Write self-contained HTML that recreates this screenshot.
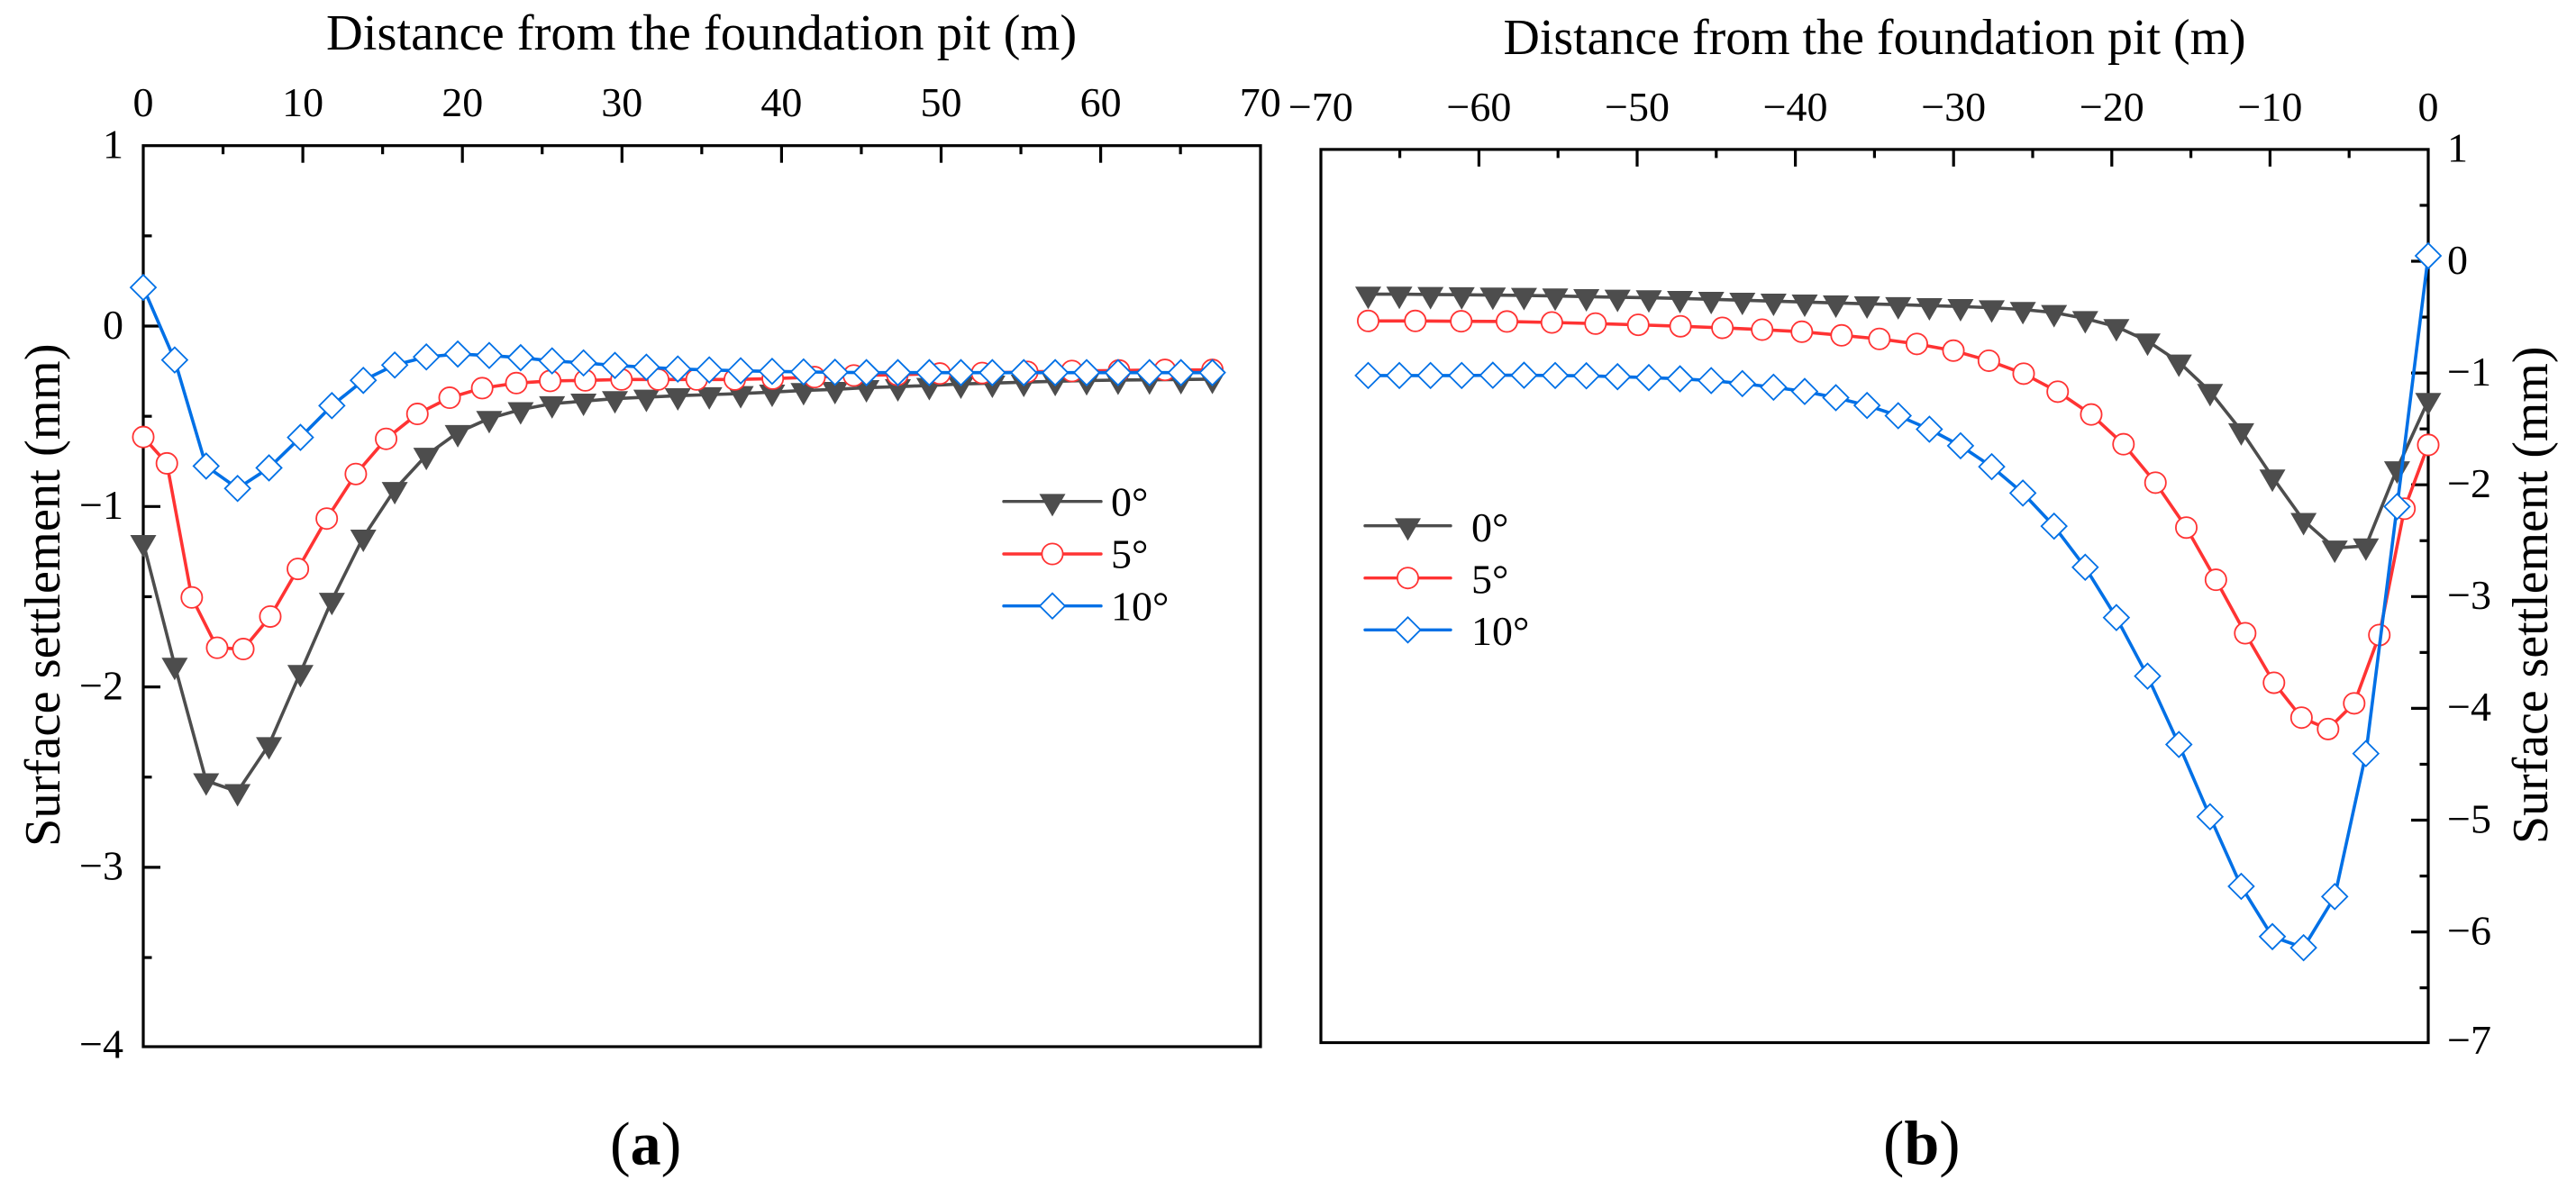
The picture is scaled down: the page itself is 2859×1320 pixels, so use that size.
<!DOCTYPE html>
<html lang="en">
<head>
<meta charset="utf-8">
<title>Surface settlement vs. distance from the foundation pit</title>
<style>
html,body{margin:0;padding:0;background:#fff;}
body{width:2859px;height:1320px;overflow:hidden;}
svg{display:block;}
text{font-family:"Liberation Serif","Times New Roman",serif;fill:#000;}
.title{font-size:56.5px;}
.title-b{font-size:55.9px;}
.tick{font-size:46px;}
.cap{font-size:68px;}
.cap-b{font-size:70px;}
</style>
</head>
<body>
<svg id="chart" width="2859" height="1320" viewBox="0 0 2859 1320" xmlns="http://www.w3.org/2000/svg">
  <rect x="0" y="0" width="2859" height="1320" fill="#fff"/>
  <g id="panelA"></g>
  <g id="panelB"></g>
  <text class="title" x="362" y="55">Distance from the foundation pit (m)</text>
  <text class="title-b" x="1668.5" y="60">Distance from the foundation pit (m)</text>
  <text class="title" transform="translate(66 940) rotate(-90)">Surface settlement (mm)</text>
  <text class="title-b" transform="translate(2827 937) rotate(-90)">Surface settlement (mm)</text>
  <text class="cap" x="677" y="1292.5">(<tspan font-weight="bold">a</tspan>)</text>
  <text class="cap-b" x="2090" y="1292.5">(<tspan font-weight="bold">b</tspan>)</text>
</svg>
<script>
// ---------- Panel (a) data ----------
const seriesLabels = ['0°', '5°', '10°'];
const xTickValuesA = [0, 10, 20, 30, 40, 50, 60, 70];
const xTickMinorA = [5, 15, 25, 35, 45, 55, 65];
const yTickValuesA = [1, 0, -1, -2, -3, -4];
const yTickMinorA = [0.5, -0.5, -1.5, -2.5, -3.5];

const distA0 = [0,1.97,3.94,5.91,7.88,9.85,11.82,13.79,15.76,17.74,19.71,21.68,23.65,25.62,27.59,29.56,31.53,33.5,35.47,37.44,39.41,41.38,43.35,45.32,47.29,49.26,51.24,53.21,55.18,57.15,59.12,61.09,63.06,65.03,67];
const settleA0 = [-1.20,-1.88,-2.52,-2.58,-2.32,-1.92,-1.52,-1.17,-0.906,-0.716,-0.59,-0.512,-0.463,-0.43,-0.416,-0.402,-0.394,-0.386,-0.38,-0.374,-0.366,-0.357,-0.351,-0.341,-0.336,-0.329,-0.321,-0.316,-0.311,-0.306,-0.302,-0.299,-0.298,-0.296,-0.294];

const distA5 = [0,1.48,3.04,4.63,6.27,7.96,9.69,11.5,13.32,15.22,17.18,19.2,21.24,23.38,25.5,27.7,29.97,32.27,34.68,37.07,39.45,42.07,44.53,47.26,49.92,52.57,55.4,58.2,61.15,64.03,67];
const settleA5 = [-0.615,-0.761,-1.504,-1.783,-1.79,-1.61,-1.346,-1.067,-0.82,-0.625,-0.487,-0.397,-0.344,-0.316,-0.304,-0.301,-0.296,-0.296,-0.296,-0.296,-0.291,-0.283,-0.274,-0.27,-0.263,-0.26,-0.254,-0.249,-0.246,-0.243,-0.243];

const distA10 = [0,1.97,3.94,5.91,7.88,9.85,11.82,13.79,15.76,17.74,19.71,21.68,23.65,25.62,27.59,29.56,31.53,33.5,35.47,37.44,39.41,41.38,43.35,45.32,47.29,49.26,51.24,53.21,55.18,57.15,59.12,61.09,63.06,65.03,67];
const settleA10 = [0.214,-0.188,-0.776,-0.90,-0.786,-0.617,-0.441,-0.301,-0.216,-0.171,-0.155,-0.163,-0.175,-0.193,-0.204,-0.218,-0.228,-0.238,-0.243,-0.248,-0.251,-0.254,-0.256,-0.258,-0.258,-0.258,-0.258,-0.258,-0.258,-0.258,-0.258,-0.258,-0.258,-0.258,-0.258];

// ---------- Panel (b) data ----------
const xTickValuesB = [-70, -60, -50, -40, -30, -20, -10, 0];
const xTickMinorB = [-65, -55, -45, -35, -25, -15, -5];
const yTickValuesB = [1, 0, -1, -2, -3, -4, -5, -6, -7];
const yTickMinorB = [0.5, -0.5, -1.5, -2.5, -3.5, -4.5, -5.5, -6.5];

const distB0 = [-67,-65.03,-63.06,-61.09,-59.12,-57.15,-55.18,-53.21,-51.24,-49.26,-47.29,-45.32,-43.35,-41.38,-39.41,-37.44,-35.47,-33.5,-31.53,-29.56,-27.59,-25.62,-23.65,-21.68,-19.71,-17.74,-15.76,-13.79,-11.82,-9.85,-7.88,-5.91,-3.94,-1.97,0];
const settleB0 = [-0.295,-0.295,-0.298,-0.30,-0.303,-0.306,-0.311,-0.317,-0.322,-0.327,-0.333,-0.341,-0.349,-0.357,-0.365,-0.373,-0.381,-0.388,-0.397,-0.405,-0.416,-0.432,-0.459,-0.513,-0.585,-0.714,-0.902,-1.165,-1.516,-1.93,-2.319,-2.566,-2.547,-1.857,-1.245];

const distB5 = [-67,-64.02,-61.12,-58.23,-55.39,-52.63,-49.93,-47.26,-44.61,-42.1,-39.59,-37.08,-34.69,-32.32,-30.01,-27.77,-25.57,-23.42,-21.3,-19.26,-17.24,-15.29,-13.42,-11.57,-9.75,-8.01,-6.33,-4.68,-3.09,-1.5,0];
const settleB5 = [-0.534,-0.534,-0.537,-0.539,-0.548,-0.558,-0.569,-0.582,-0.596,-0.612,-0.631,-0.663,-0.695,-0.74,-0.80,-0.89,-1.006,-1.167,-1.371,-1.637,-1.981,-2.383,-2.85,-3.328,-3.771,-4.083,-4.185,-3.955,-3.344,-2.214,-1.643];

const distB10 = [-67,-65.03,-63.06,-61.09,-59.12,-57.15,-55.18,-53.21,-51.24,-49.26,-47.29,-45.32,-43.35,-41.38,-39.41,-37.44,-35.47,-33.5,-31.53,-29.56,-27.59,-25.62,-23.65,-21.68,-19.71,-17.74,-15.76,-13.79,-11.82,-9.85,-7.88,-5.91,-3.94,-1.97,0];
const settleB10 = [-1.0225,-1.0225,-1.0225,-1.0225,-1.02,-1.02,-1.0225,-1.025,-1.033,-1.041,-1.052,-1.068,-1.095,-1.127,-1.165,-1.221,-1.29,-1.382,-1.503,-1.651,-1.838,-2.074,-2.37,-2.738,-3.188,-3.712,-4.323,-4.97,-5.592,-6.042,-6.141,-5.684,-4.405,-2.195,0.048];

// ---------- Axis functions ----------
function xA(v) { return 159 + v * 17.71; }
function yA(v) { return 362 - v * 200.3; }
function xB(v) { return 2695 + v * 17.56; }
function yB(v) { return 290 - v * 124.1; }

const NS = 'http://www.w3.org/2000/svg';
const COLORS = ['#4d4d4d', '#ff3333', '#0070e6'];

function make(tag, attrs, parent) {
  const el = document.createElementNS(NS, tag);
  for (const k in attrs) el.setAttribute(k, attrs[k]);
  parent.appendChild(el);
  return el;
}
function fmt(v) { return v < 0 ? '\u2212' + Math.abs(v) : String(v); }

function markerShape(shape, cx, cy, parent) {
  let m;
  if (shape === 'triangle') {
    m = make('polygon', {
      points: (cx - 14.5) + ',' + (cy - 8.3) + ' ' + (cx + 14.5) + ',' + (cy - 8.3) + ' ' + cx + ',' + (cy + 16.7),
      fill: COLORS[0]
    }, parent);
  } else if (shape === 'circle') {
    m = make('circle', { cx: cx, cy: cy, r: 11.6, fill: '#fff', stroke: COLORS[1], 'stroke-width': 1.8 }, parent);
  } else {
    m = make('polygon', {
      points: (cx - 14) + ',' + cy + ' ' + cx + ',' + (cy - 14) + ' ' + (cx + 14) + ',' + cy + ' ' + cx + ',' + (cy + 14),
      fill: '#fff', stroke: COLORS[2], 'stroke-width': 1.8
    }, parent);
  }
  return m;
}

function drawSeries(parent, xs, ys, sx, sy, colorIdx, shape, label) {
  const g = make('g', {}, parent);
  
  
  const pts = xs.map(function (x, i) { return sx(x) + ',' + sy(ys[i]); }).join(' ');
  const line = make('polyline', { points: pts, fill: 'none', stroke: COLORS[colorIdx], 'stroke-width': 3.6, 'stroke-linejoin': 'round' }, g);
  
  
  xs.forEach(function (x, i) {
    const m = markerShape(shape, sx(x), sy(ys[i]), g);
    
    
  });
}

function drawAxes(parent, cfg) {
  const axis = make('g', { stroke: '#000', 'stroke-width': 3.2, fill: 'none' }, parent);
  
  
  const frame = make('rect', { x: cfg.left, y: cfg.top, width: cfg.right - cfg.left, height: cfg.bottom - cfg.top }, axis);
  
  

  cfg.xTicks.forEach(function (v) {
    const x = cfg.sx(v);
    if (x > cfg.left + 1 && x < cfg.right - 1) {
      const t = make('line', { x1: x, x2: x, y1: cfg.top, y2: cfg.top + 19 }, axis);
      
      
    }
    const lab = make('text', { class: 'tick', x: x, y: cfg.xLabelY, 'text-anchor': 'middle' }, parent);
    lab.textContent = fmt(v);
    
    
  });
  cfg.xMinor.forEach(function (v) {
    const x = cfg.sx(v);
    const t = make('line', { x1: x, x2: x, y1: cfg.top, y2: cfg.top + 9.5 }, axis);
    
    
  });
  const ax = cfg.yAxisX, dir = cfg.yDir;
  cfg.yTicks.forEach(function (v) {
    const y = cfg.sy(v);
    if (y > cfg.top + 1 && y < cfg.bottom - 1) {
      const t = make('line', { x1: ax, x2: ax + dir * 19, y1: y, y2: y }, axis);
      
      
    }
    const labelY = y >= cfg.bottom - 1 ? cfg.bottom + 12.5 : y + 13.8;
    const lab = make('text', { class: 'tick', x: cfg.yLabelX, y: labelY, 'text-anchor': cfg.yAnchor }, parent);
    lab.textContent = fmt(v);
    
    
  });
  cfg.yMinor.forEach(function (v) {
    const y = cfg.sy(v);
    const t = make('line', { x1: ax, x2: ax + dir * 9.5, y1: y, y2: y }, axis);
    
    
  });
}

function drawLegend(parent, x0, x1, textX, rows, baselines) {
  const g = make('g', {}, parent);
  
  
  const shapes = ['triangle', 'circle', 'diamond'];
  seriesLabels.forEach(function (lab, i) {
    const entry = make('g', {}, g);
    
    
    make('line', { x1: x0, x2: x1, y1: rows[i], y2: rows[i], stroke: COLORS[i], 'stroke-width': 3.4, 'stroke-linecap': 'round' }, entry);
    markerShape(shapes[i], (x0 + x1) / 2, rows[i], entry);
    const t = make('text', { class: 'tick', x: textX, y: baselines[i] }, entry);
    t.textContent = lab;
  });
}

const panelA = document.getElementById('panelA');
const panelB = document.getElementById('panelB');

drawAxes(panelA, {
  name: 'panel-a', left: 159, right: 1399, top: yA(1), bottom: 1162,
  sx: xA, sy: yA, xTicks: xTickValuesA, xMinor: xTickMinorA, yTicks: yTickValuesA, yMinor: yTickMinorA,
  xLabelY: 129, yAxisX: 159, yDir: 1, yLabelX: 137, yAnchor: 'end'
});
drawSeries(panelA, distA0, settleA0, xA, yA, 0, 'triangle', 'a-0deg');
drawSeries(panelA, distA5, settleA5, xA, yA, 1, 'circle', 'a-5deg');
drawSeries(panelA, distA10, settleA10, xA, yA, 2, 'diamond', 'a-10deg');
drawLegend(panelA, 1114, 1222, 1233, [556.7, 615, 672.7], [572.7, 630.7, 688.7]);

drawAxes(panelB, {
  name: 'panel-b', left: 1466, right: 2695, top: yB(1), bottom: 1157.5,
  sx: xB, sy: yB, xTicks: xTickValuesB, xMinor: xTickMinorB, yTicks: yTickValuesB, yMinor: yTickMinorB,
  xLabelY: 134, yAxisX: 2695, yDir: -1, yLabelX: 2716, yAnchor: 'start'
});
drawSeries(panelB, distB0, settleB0, xB, yB, 0, 'triangle', 'b-0deg');
drawSeries(panelB, distB5, settleB5, xB, yB, 1, 'circle', 'b-5deg');
drawSeries(panelB, distB10, settleB10, xB, yB, 2, 'diamond', 'b-10deg');
drawLegend(panelB, 1515, 1610, 1633, [583.7, 641.7, 699.3], [601, 658.5, 716]);
</script>
</body>
</html>
